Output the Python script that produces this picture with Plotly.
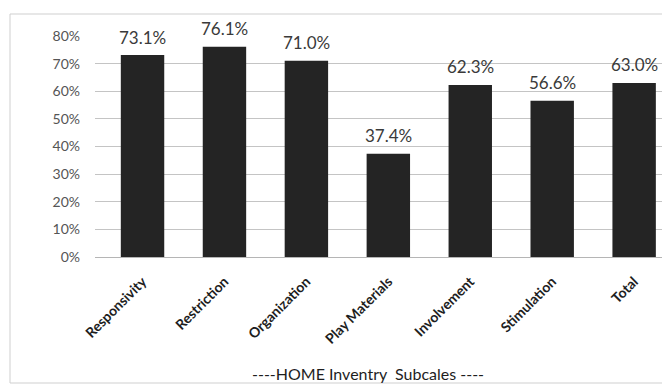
import plotly.graph_objects as go

# HOME inventory subscale scores (share of maximum)
subscales = ["Responsivity", "Restriction", "Organization", "Play Materials",
             "Involvement", "Stimulation", "Total"]
scores = [0.731, 0.761, 0.710, 0.374, 0.623, 0.566, 0.630]
y_ticks = [0, 0.1, 0.2, 0.3, 0.4, 0.5, 0.6, 0.7, 0.8]
y_tick_text = ["0%", "10%", "20%", "30%", "40%", "50%", "60%", "70%", "80%"]

W, H = 662, 385
L, T, B = 95, 36, 128

fig = go.Figure(go.Bar(
    x=subscales, y=scores, width=0.53,
    marker=dict(color="#242424", line=dict(width=0)),
    showlegend=False,
))

# value labels above each bar
for name, v in zip(subscales, scores):
    fig.add_annotation(x=name, y=v, text=f"{v*100:.1f}%", showarrow=False,
                       yshift=18, yanchor="middle",
                       font=dict(family="Lato", size=17, color="#3a3a3a"))

# axis title line under the category labels
fig.add_annotation(xref="paper", yref="paper", x=(368 - L) / (W - L),
                   y=-(373 - (H - B)) / (H - B - T), yanchor="middle",
                   text="----HOME Inventry  Subcales ----", showarrow=False,
                   font=dict(family="Lato", size=16, color="#1e1e1e"))

# outer chart frame
fig.add_shape(type="rect", xref="paper", yref="paper",
              x0=-(L - 10) / (W - L), x1=1.05,
              y0=-(383 - (H - B)) / (H - B - T), y1=1 + (T - 14) / (H - B - T),
              line=dict(color="#cfcfcf", width=1), layer="below")

fig.update_layout(
    width=W, height=H,
    margin=dict(l=L, r=0, t=T, b=B),
    paper_bgcolor="white", plot_bgcolor="white",
    bargap=0.47,
)
fig.update_xaxes(
    range=[-0.58, 6.34], tickangle=-45, showgrid=False,
    tickfont=dict(family="Lato", size=14, color="#1e1e1e", weight="bold"),
    ticklabelstandoff=10,
    showline=True, linecolor="#b5b5b5", linewidth=1, ticks="",
)
fig.update_yaxes(
    range=[0, 0.8], tickvals=y_ticks, ticktext=y_tick_text,
    showgrid=True, gridcolor="#c4c4c4", gridwidth=1, zeroline=False,
    tickfont=dict(family="Lato", size=14, color="#555555"),
    ticklabelstandoff=14,
)

fig.write_html("out.html")
